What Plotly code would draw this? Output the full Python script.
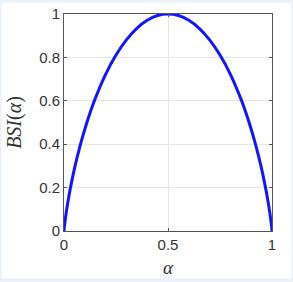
import plotly.graph_objects as go

# alpha values (x) and BSI(alpha) values
alpha_left = [0.0, 0.001, 0.002, 0.005, 0.01, 0.02, 0.03, 0.05, 0.075, 0.1,
              0.125, 0.15, 0.2, 0.25, 0.3, 0.35, 0.4, 0.45, 0.5]
bsi_left = [0.0, 0.011, 0.021, 0.045, 0.081, 0.141, 0.194, 0.286, 0.384, 0.469,
            0.544, 0.610, 0.722, 0.811, 0.881, 0.934, 0.971, 0.993, 1.0]

alpha = alpha_left + [round(1 - a, 3) for a in reversed(alpha_left[:-1])]
bsi = bsi_left + list(reversed(bsi_left[:-1]))

x_ticks = [0, 0.5, 1]
x_tick_labels = ["0", "0.5", "1"]
y_ticks = [0, 0.2, 0.4, 0.6, 0.8, 1]
y_tick_labels = ["0", "0.2", "0.4", "0.6", "0.8", "1"]

fig = go.Figure()
fig.add_trace(go.Scatter(x=alpha, y=bsi, mode="lines",
                         line=dict(color="#1414ff", width=3, shape="spline", smoothing=0.6),
                         hoverinfo="skip", showlegend=False))

axis_common = dict(showline=True, linecolor="#555555", linewidth=1, mirror="ticks",
                   ticks="inside", ticklen=3, tickcolor="#555555",
                   showgrid=True, gridcolor="#e6e6e6", gridwidth=1, zeroline=False,
                   automargin=False,
                   tickfont=dict(family="Liberation Sans, Arial", size=15, color="#333333"))

fig.update_layout(
    width=293, height=282,
    margin=dict(l=64, r=21, t=14, b=51),
    paper_bgcolor="#eaf3fb",
    plot_bgcolor="white",
    xaxis=dict(range=[0, 1], tickvals=x_ticks, ticktext=x_tick_labels,
               title=dict(text="<i>α</i>", standoff=8,
                          font=dict(family="Liberation Serif, serif", size=19, color="#333333")),
               **axis_common),
    yaxis=dict(range=[0, 1], tickvals=y_ticks, ticktext=y_tick_labels,
               title=dict(text="<i>BSI</i>(<i>α</i>)", standoff=12,
                          font=dict(family="Liberation Serif, serif", size=20, color="#333333")),
               **axis_common),
    shapes=[dict(type="rect", xref="paper", yref="paper",
                 x0=-0.300, x1=1.093, y0=-0.219, y1=1.052,
                 fillcolor="white", line=dict(width=0), layer="below")],
)

fig.write_html("out.html", config={"displayModeBar": False},
               post_script="document.body.style.margin='0';")
